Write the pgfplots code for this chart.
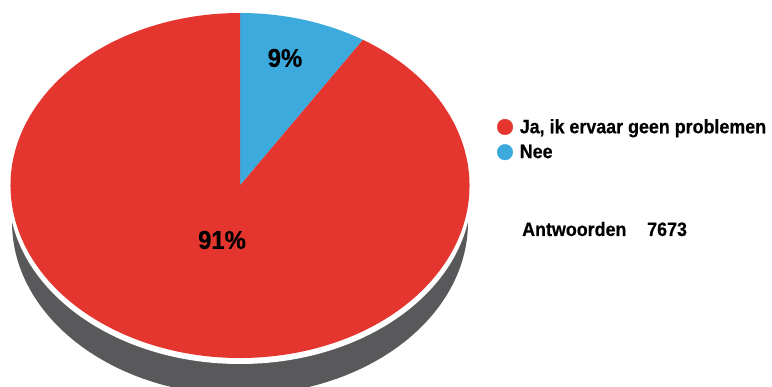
\documentclass[border=0pt]{standalone}
\usepackage{fontspec}
\setmainfont{Liberation Sans}[FakeStretch=0.92, FakeBold=0.4]
\usepackage{pgfplots}
\usepackage{pgfplotstable}
\pgfplotsset{compat=1.18}

\definecolor{piered}{HTML}{E4352E}
\definecolor{pieblue}{HTML}{3CAADC}
\definecolor{piegray}{HTML}{59595B}

% share in percent
\pgfplotstableread{
label pct
Ja    91
Nee   9
}\piedata
\pgfplotstablegetelem{0}{pct}\of\piedata \let\ja\pgfplotsretval
\pgfplotstablegetelem{1}{pct}\of\piedata \let\nee\pgfplotsretval
\pgfmathsetmacro\cut{90-3.6*\nee}

\begin{document}
\begin{tikzpicture}
\begin{axis}[
  width=772bp, height=387bp, scale only axis,
  xmin=0, xmax=772, ymin=0, ymax=387,
  hide axis, disabledatascaling, clip=false,
  legend cell align=left,
  legend style={at={(axis cs:497,270)}, anchor=north west, draw=none, fill=none,
    inner sep=0pt, row sep=6bp,
    /tikz/every odd column/.append style={column sep=5bp},
    font=\bfseries\fontsize{19.5}{21}\selectfont},
]
% shadow / side
\fill[piegray] (axis cs:240,165) ellipse[x radius=228, y radius=173];
\fill[white] (axis cs:240,195.5) ellipse[x radius=231.5, y radius=172.5];
% slices
\fill[pieblue] (axis cs:240,201.5) -- ++(90:229.5 and 172.5)
  arc[start angle=90, end angle=\cut, x radius=229.5, y radius=172.5] -- cycle;
\fill[piered] (axis cs:240,201.5) -- ++(\cut:229.5 and 172.5)
  arc[start angle=\cut, end angle=-270, x radius=229.5, y radius=172.5] -- cycle;

\node[font=\bfseries\fontsize{26}{28}\selectfont] at (axis cs:285,329) {\nee\%};
\node[font=\bfseries\fontsize{26}{28}\selectfont] at (axis cs:222,147) {\ja\%};

\addlegendimage{only marks, mark=*, mark size=7.8bp, color=piered}
\addlegendentry{Ja, ik ervaar geen problemen}
\addlegendimage{only marks, mark=*, mark size=7.8bp, color=pieblue}
\addlegendentry{Nee}

\node[anchor=base west, inner sep=0pt, font=\bfseries\fontsize{19.5}{21}\selectfont] at (axis cs:522,151) {Antwoorden};
\node[anchor=base west, inner sep=0pt, font=\bfseries\fontsize{19.5}{21}\selectfont] at (axis cs:647,151) {7673};
\end{axis}
\pgfresetboundingbox
\path (current axis.south west) rectangle (current axis.north east);
\end{tikzpicture}
\end{document}
